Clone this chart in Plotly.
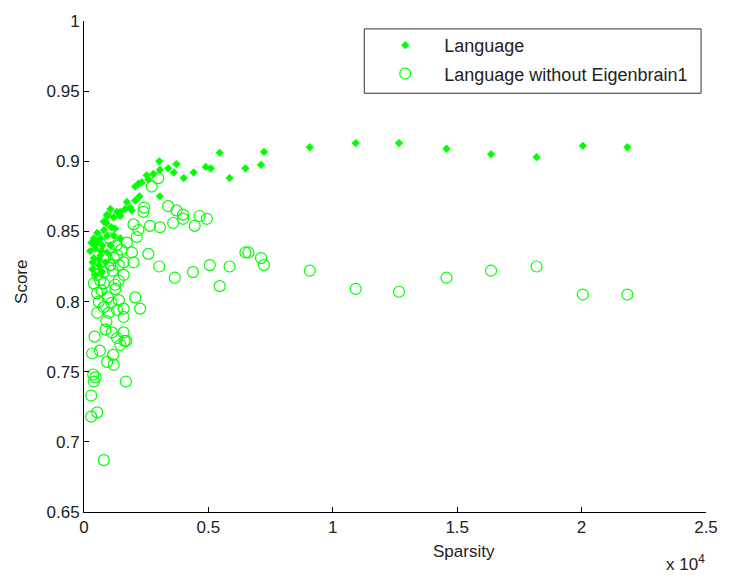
import plotly.graph_objects as go

# Language (filled diamonds)
lang_x = [7233, 7113, 9076, 10920, 12660, 14570, 16360, 18190, 20050, 21840,
          3025, 3384, 3715, 3609, 4009, 4407, 3052, 2787, 2521, 2588, 2322, 2189, 2057,
          3052, 2229, 2057, 1725, 1858, 1658, 1327, 1062, 928, 1460, 1924,
          4896, 5096, 5454, 5852, 6489,
          928, 1194, 1460, 796, 530, 398, 663, 928, 1194, 1460, 465, 730, 1062,
          398, 663, 928, 330, 597, 864, 465, 730,
          300, 250, 560, 800, 1100, 350, 600, 420, 900, 1250, 700]
lang_y = [0.9067, 0.8975, 0.910, 0.913, 0.913, 0.909, 0.905, 0.903, 0.911, 0.910,
          0.900, 0.895, 0.898, 0.892, 0.888, 0.892, 0.894, 0.891, 0.890, 0.887, 0.885, 0.884, 0.882,
          0.875, 0.875, 0.872, 0.871, 0.867, 0.866, 0.864, 0.866, 0.862, 0.861, 0.865,
          0.896, 0.895, 0.906, 0.888, 0.895,
          0.861, 0.860, 0.864, 0.857, 0.849, 0.845, 0.845, 0.847, 0.847, 0.845, 0.838, 0.840, 0.840,
          0.831, 0.833, 0.835, 0.823, 0.826, 0.828, 0.819, 0.821,
          0.842, 0.836, 0.843, 0.851, 0.853, 0.828, 0.830, 0.840, 0.856, 0.852, 0.836]

# Language without Eigenbrain1 (open circles)
noeig_x = [6608, 7113, 7233, 9076, 10920, 12660, 14570, 16360, 18190, 20050, 21840,
           796, 290, 530, 290, 1685, 370, 465, 400, 330, 637, 928, 1167, 1194, 1460, 1700,
           425, 864, 1127, 1592, 1632, 1327, 2057, 2256, 530, 597, 796, 995, 1327, 1592,
           1260, 1393, 796, 398, 3650, 530, 1592,
           2588, 3025, 4380, 3583, 3981, 4447, 3052, 2654, 2189, 2123, 1990, 1725, 1924,
           1990, 1592, 1327, 1062, 796, 530, 1592, 2389,
           2415, 2720, 2986, 3384, 3715, 3981, 4645, 4936, 5056, 5454, 5852, 6489,
           1000, 1200, 700, 1400, 900, 1100,
           1050, 1300, 1500, 850, 650, 1150, 1400, 950, 1250, 600]
noeig_y = [0.835, 0.831, 0.826, 0.822, 0.809, 0.807, 0.817, 0.822, 0.825, 0.805, 0.805,
           0.687, 0.718, 0.721, 0.733, 0.743, 0.748, 0.746, 0.743, 0.763, 0.765, 0.757, 0.762, 0.755, 0.769, 0.772,
           0.775, 0.780, 0.778, 0.778, 0.772, 0.774, 0.803, 0.795, 0.806, 0.800, 0.796, 0.792, 0.794, 0.789,
           0.809, 0.815, 0.813, 0.813, 0.817, 0.792, 0.795,
           0.834, 0.825, 0.821, 0.856, 0.859, 0.854, 0.853, 0.854, 0.851, 0.846, 0.855, 0.842, 0.835,
           0.828, 0.828, 0.833, 0.826, 0.821, 0.819, 0.819, 0.864,
           0.867, 0.882, 0.888, 0.868, 0.865, 0.862, 0.861, 0.859, 0.826, 0.811, 0.825, 0.835,
           0.838, 0.831, 0.808, 0.801, 0.786, 0.799,
           0.845, 0.840, 0.837, 0.832, 0.815, 0.822, 0.826, 0.803, 0.812, 0.827]

x_tickvals = [0, 5000, 10000, 15000, 20000, 25000]
x_ticktext = ["0", "0.5", "1", "1.5", "2", "2.5"]
y_tickvals = [0.65, 0.7, 0.75, 0.8, 0.85, 0.9, 0.95, 1.0]
y_ticktext = ["0.65", "0.7", "0.75", "0.8", "0.85", "0.9", "0.95", "1"]

GREEN = "#00ff00"
FONT = "Liberation Sans, Arial, sans-serif"
TXT = "#222"

ML, MR, MT, MB = 84, 18, 16, 67
W, H = 730, 579
PW = W - ML - MR
PH = H - MT - MB


def px_x(p):
    return (p - ML) / PW


def px_y(p):
    return (H - MB - p) / PH


fig = go.Figure()
fig.add_trace(go.Scatter(
    x=lang_x, y=lang_y, mode="markers", name="Language", legendgroup="a",
    marker=dict(symbol="diamond", size=6, color=GREEN, line=dict(width=0.5, color=GREEN)),
))
fig.add_trace(go.Scatter(
    x=noeig_x, y=noeig_y, mode="markers", name="Language without Eigenbrain1", legendgroup="b",
    marker=dict(symbol="circle-open", size=11, color=GREEN, line=dict(width=1.2, color=GREEN)),
))

axis_common = dict(showline=True, linecolor="black", linewidth=1, mirror=False,
                   ticks="inside", ticklen=5, tickcolor="black", showgrid=False,
                   zeroline=False, tickfont=dict(family=FONT, size=17, color=TXT))

fig.update_layout(
    width=W, height=H,
    margin=dict(l=ML, r=MR, t=MT, b=MB),
    paper_bgcolor="white", plot_bgcolor="white",
    font=dict(family=FONT, size=17, color=TXT),
    xaxis=dict(range=[0, 25000], tickvals=x_tickvals, ticktext=x_ticktext, **axis_common),
    yaxis=dict(range=[0.65, 1.0], tickvals=y_tickvals, ticktext=y_ticktext, **axis_common),
    showlegend=True,
    legend=dict(x=px_x(369), y=px_y(22), xanchor="left", yanchor="top", bgcolor="rgba(0,0,0,0)",
                borderwidth=0, font=dict(family=FONT, size=18, color=TXT),
                tracegroupgap=2, itemwidth=68),
    shapes=[dict(type="rect", xref="paper", yref="paper",
                 x0=px_x(367), x1=px_x(707),
                 y0=px_y(89), y1=px_y(24),
                 line=dict(color="#333", width=1), fillcolor="white", layer="below")],
    annotations=[
        dict(text="Sparsity", xref="paper", yref="paper", x=px_x(468), y=px_y(552),
             xanchor="center", yanchor="middle", showarrow=False,
             font=dict(family=FONT, size=17, color=TXT)),
        dict(text="Score", xref="paper", yref="paper", x=px_x(21), y=px_y(280),
             xanchor="center", yanchor="middle", showarrow=False, textangle=-90,
             font=dict(family=FONT, size=17, color=TXT)),
        dict(text="x 10<sup>4</sup>", xref="paper", yref="paper", x=px_x(713), y=px_y(564),
             xanchor="right", yanchor="middle", showarrow=False,
             font=dict(family=FONT, size=17, color=TXT)),
    ],
)

fig.write_html("out.html")
